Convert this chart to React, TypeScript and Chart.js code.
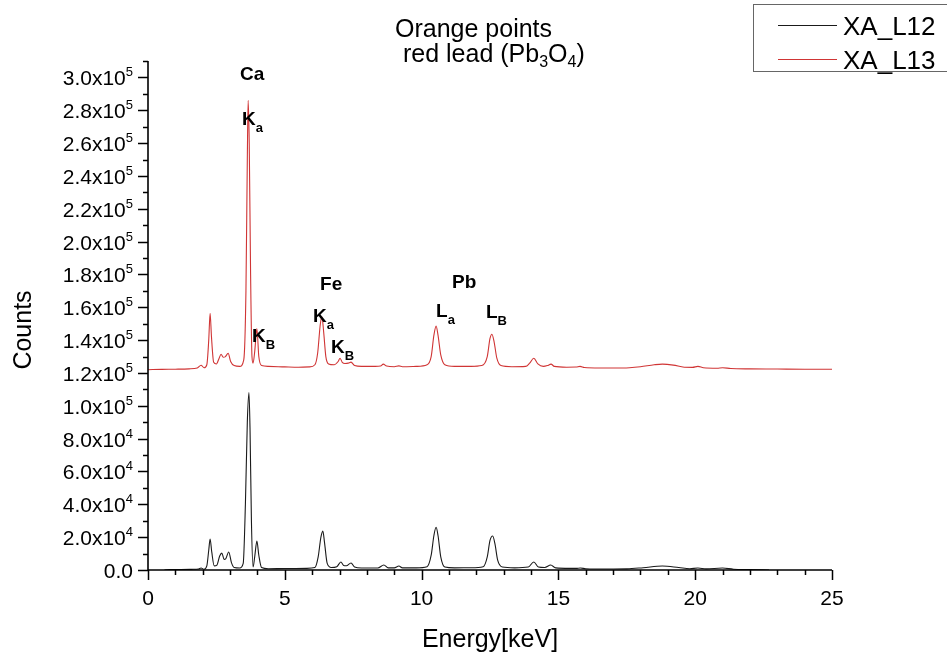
import React, { useEffect, useRef } from 'react';
import { Chart, registerables } from 'chart.js';

Chart.register(...registerables);

// ---- data (keV, counts) ----
const energyL13 = [
  0, 0.5, 1.0, 1.5, 1.8, 1.94, 2.05, 2.15, 2.22, 2.27, 2.32, 2.4, 2.5, 2.6, 2.67, 2.75, 2.82, 2.93, 3.02, 3.15,
  3.35, 3.5, 3.58, 3.63, 3.66, 3.7, 3.75, 3.8, 3.84, 3.9, 3.98, 4.05, 4.15, 4.4, 5.0, 5.5, 5.9, 6.1, 6.2, 6.3,
  6.36, 6.42, 6.5, 6.6, 6.8, 6.95, 7.02, 7.1, 7.2, 7.32, 7.42, 7.55, 7.8, 8.3, 8.5, 8.6, 8.72, 9.0, 9.17, 9.3,
  9.8, 10.2, 10.35, 10.45, 10.53, 10.6, 10.7, 10.85, 11.2, 11.8, 12.2, 12.4, 12.5, 12.57, 12.65, 12.75, 12.9, 13.3, 13.8, 13.95,
  14.1, 14.25, 14.45, 14.6, 14.73, 14.85, 15.3, 15.65, 15.79, 15.95, 16.5, 17.0, 17.6, 18.0, 18.5, 18.8, 19.2, 19.6, 19.9, 20.1,
  20.3, 20.8, 21.0, 21.3, 22.0, 23.0, 24.0, 25.0,
];
const countsL13 = [
  122000, 122200, 122300, 122500, 123000, 124700, 123200, 125000, 140000, 156400, 142000, 126500, 125500, 129000, 131400, 129600, 129800, 132000, 127000, 124500,
  124000, 128000, 170000, 250000, 286000, 260000, 180000, 130000, 126000, 133000, 147000, 130000, 124500, 124000, 123700, 123500, 123700, 125000, 132000, 150000,
  154000, 145000, 130000, 125500, 125000, 127000, 129000, 126500, 125800, 126000, 126600, 124500, 124000, 124000, 124200, 125400, 124200, 123800, 124300, 123800,
  124000, 125000, 130000, 143000, 148500, 143000, 131000, 125000, 124000, 124000, 124500, 130000, 141000, 143600, 139000, 129000, 124500, 123800, 124000, 126000,
  129000, 125500, 124000, 124500, 125400, 124000, 123500, 123600, 124000, 123300, 123000, 123000, 123200, 123800, 125000, 125400, 124800, 123500, 123400, 124000,
  123200, 122900, 123200, 122700, 122500, 122400, 122300, 122300,
];

const energyL12 = [
  0.6, 0.8, 1.2, 1.6, 1.85, 1.94, 2.05, 2.15, 2.22, 2.27, 2.33, 2.42, 2.52, 2.62, 2.7, 2.78, 2.84, 2.95, 3.05, 3.15,
  3.35, 3.48, 3.56, 3.63, 3.69, 3.73, 3.78, 3.84, 3.9, 3.98, 4.05, 4.15, 4.4, 5.0, 5.8, 6.1, 6.22, 6.32, 6.39, 6.45,
  6.55, 6.7, 6.9, 7.05, 7.15, 7.25, 7.42, 7.55, 7.8, 8.4, 8.62, 8.78, 9.0, 9.17, 9.3, 9.8, 10.2, 10.35, 10.45, 10.53,
  10.6, 10.7, 10.85, 11.2, 11.8, 12.25, 12.4, 12.5, 12.6, 12.68, 12.78, 12.95, 13.4, 13.9, 14.1, 14.27, 14.5, 14.72, 14.9, 15.4,
  15.65, 15.8, 16.0, 16.8, 17.5, 18.1, 18.8, 19.4, 19.8, 20.1, 20.4, 21.0, 21.4, 22.0, 22.7,
];
const countsL12 = [
  0, 300, 300, 400, 600, 1200, 500, 2500, 12000, 18900, 11000, 2500, 3000, 8500, 10300, 6500, 6800, 11000, 4500, 1500,
  1200, 4000, 40000, 90000, 108000, 85000, 30000, 1800, 8000, 17600, 9000, 1500, 800, 900, 1000, 1500, 8000, 20000, 23700, 17000,
  4000, 1500, 2000, 4900, 2800, 2600, 4300, 1800, 1200, 1200, 3000, 1300, 1300, 2400, 1300, 1300, 2000, 9000, 21000, 26000,
  21000, 8000, 1800, 1300, 1400, 2000, 8000, 18000, 20700, 16000, 6000, 1800, 1300, 1800, 4900, 1800, 1500, 3000, 1300, 1000,
  1000, 1200, 800, 600, 700, 1400, 2400, 1500, 800, 1200, 700, 1200, 500, 300, 0,
];

const seriesNames = ['XA_L12', 'XA_L13'];

const xTickValues = [0, 5, 10, 15, 20, 25];
const xTickLabels = ['0', '5', '10', '15', '20', '25'];
const yTickValues = [0, 20000, 40000, 60000, 80000, 100000, 120000, 140000, 160000, 180000, 200000, 220000, 240000, 260000, 280000, 300000];
const yTickMantissas = ['0.0', '2.0', '4.0', '6.0', '8.0', '1.0', '1.2', '1.4', '1.6', '1.8', '2.0', '2.2', '2.4', '2.6', '2.8', '3.0'];
const yTickExponents = ['', '4', '4', '4', '4', '5', '5', '5', '5', '5', '5', '5', '5', '5', '5', '5'];

// peak annotations: main text, subscript, position in data units (left edge keV, baseline counts)
const peakMain = ['Ca', 'K', 'K', 'Fe', 'K', 'K', 'Pb', 'L', 'L'];
const peakSub = ['', 'a', 'B', '', 'a', 'B', '', 'a', 'B'];
const peakKeV = [3.36, 3.44, 3.80, 6.29, 6.03, 6.69, 11.11, 10.53, 12.35];
const peakCounts = [298400, 271000, 138900, 170500, 151000, 132200, 171700, 154100, 153500];

const FONT = '"Liberation Sans", Arial, sans-serif';

type Part = { t: string; size: number; bold?: boolean; dy?: number };

function richWidth(ctx: CanvasRenderingContext2D, parts: Part[]) {
  let w = 0;
  for (const p of parts) {
    ctx.font = `${p.bold ? 'bold ' : ''}${p.size}px ${FONT}`;
    w += ctx.measureText(p.t).width;
  }
  return w;
}

function drawRich(ctx: CanvasRenderingContext2D, parts: Part[], x: number, y: number, align: 'left' | 'right' | 'center' = 'left') {
  const w = richWidth(ctx, parts);
  let cx = align === 'left' ? x : align === 'right' ? x - w : x - w / 2;
  ctx.textAlign = 'left';
  ctx.textBaseline = 'alphabetic';
  for (const p of parts) {
    ctx.font = `${p.bold ? 'bold ' : ''}${p.size}px ${FONT}`;
    ctx.fillText(p.t, cx, y + (p.dy || 0));
    cx += ctx.measureText(p.t).width;
  }
}

const decorPlugin = {
  id: 'decor',
  afterDraw(chart: any) {
    const ctx: CanvasRenderingContext2D = chart.ctx;
    const xs = chart.scales.x;
    const ys = chart.scales.y;
    const { left, right, top, bottom } = chart.chartArea;
    ctx.save();
    ctx.fillStyle = '#000';
    ctx.strokeStyle = '#000';

    // axes
    ctx.lineWidth = 1.6;
    ctx.beginPath();
    ctx.moveTo(left, top);
    ctx.lineTo(left, bottom);
    ctx.lineTo(right, bottom);
    ctx.stroke();

    // ticks
    ctx.lineWidth = 1.5;
    ctx.beginPath();
    for (let v = 0; v <= ys.max + 1; v += 10000) {
      const py = Math.round(ys.getPixelForValue(v)) + 0.5;
      const major = v % 20000 === 0;
      ctx.moveTo(left - (major ? 10 : 5), py);
      ctx.lineTo(left, py);
    }
    for (let v = 0; v <= 25; v += 1) {
      const px = Math.round(xs.getPixelForValue(v)) + 0.5;
      const major = v % 5 === 0;
      ctx.moveTo(px, bottom);
      ctx.lineTo(px, bottom + (major ? 10 : 5));
    }
    ctx.stroke();

    // y tick labels
    yTickValues.forEach((v, i) => {
      const py = ys.getPixelForValue(v);
      const parts: Part[] = [{ t: yTickMantissas[i] + (yTickExponents[i] ? 'x10' : ''), size: 21 }];
      if (yTickExponents[i]) parts.push({ t: yTickExponents[i], size: 13, dy: -9 });
      drawRich(ctx, parts, left - 15, py + 8, 'right');
    });

    // x tick labels
    ctx.font = `21px ${FONT}`;
    ctx.textAlign = 'center';
    ctx.textBaseline = 'alphabetic';
    xTickValues.forEach((v, i) => {
      ctx.fillText(xTickLabels[i], xs.getPixelForValue(v), 605);
    });

    // axis titles
    ctx.font = `25px ${FONT}`;
    ctx.textAlign = 'center';
    ctx.fillText('Energy[keV]', (left + right) / 2, 647);
    ctx.save();
    ctx.translate(31, 330);
    ctx.rotate(-Math.PI / 2);
    ctx.fillText('Counts', 0, 0);
    ctx.restore();

    // title
    drawRich(ctx, [{ t: 'Orange points', size: 25 }], 395, 37);
    drawRich(ctx, [
      { t: ' red lead (Pb', size: 25 },
      { t: '3', size: 16, dy: 5 },
      { t: 'O', size: 25 },
      { t: '4', size: 16, dy: 5 },
      { t: ')', size: 25 },
    ], 396, 62);

    // peak labels
    peakMain.forEach((m, i) => {
      const px = xs.getPixelForValue(peakKeV[i]);
      const py = ys.getPixelForValue(peakCounts[i]);
      const parts: Part[] = [{ t: m, size: 19, bold: true }];
      if (peakSub[i]) parts.push({ t: peakSub[i], size: 13, bold: true, dy: 7 });
      drawRich(ctx, parts, px, py, 'left');
    });

    // legend
    ctx.lineWidth = 1;
    ctx.strokeStyle = '#666';
    ctx.strokeRect(753.5, 4.5, 220, 67);
    const colors = chart.data.datasets.map((d: any) => d.borderColor);
    [25, 59].forEach((ly, i) => {
      ctx.strokeStyle = colors[i];
      ctx.lineWidth = 1.2;
      ctx.beginPath();
      ctx.moveTo(778, ly + 0.5);
      ctx.lineTo(837, ly + 0.5);
      ctx.stroke();
      ctx.fillStyle = '#000';
      drawRich(ctx, [{ t: seriesNames[i], size: 26 }], 843, ly + 10);
    });

    ctx.restore();
  },
};

export default function App() {
  const ref = useRef<HTMLCanvasElement | null>(null);

  useEffect(() => {
    document.body.style.margin = '0';
    document.body.style.overflow = 'hidden';
    const canvas = ref.current;
    if (!canvas) return;
    const chart = new Chart(canvas, {
      type: 'line',
      data: {
        datasets: [
          {
            label: seriesNames[0],
            data: energyL12.map((x, i) => ({ x, y: countsL12[i] })),
            borderColor: '#1a1a1a',
            borderWidth: 1.1,
            pointRadius: 0,
            cubicInterpolationMode: 'monotone',
            fill: false,
          },
          {
            label: seriesNames[1],
            data: energyL13.map((x, i) => ({ x, y: countsL13[i] })),
            borderColor: '#d03535',
            borderWidth: 1.1,
            pointRadius: 0,
            cubicInterpolationMode: 'monotone',
            fill: false,
          },
        ],
      },
      options: {
        responsive: false,
        animation: false,
        devicePixelRatio: 1,
        layout: { padding: { left: 148, top: 61, right: 947 - 832, bottom: 656 - 570 } },
        scales: {
          x: {
            type: 'linear',
            min: 0,
            max: 25,
            grid: { display: false, drawTicks: false },
            border: { display: false },
            ticks: { display: false },
          },
          y: {
            type: 'linear',
            min: 0,
            max: 310000,
            grid: { display: false, drawTicks: false },
            border: { display: false },
            ticks: { display: false },
          },
        },
        plugins: {
          legend: { display: false },
          title: { display: false },
          tooltip: { enabled: false },
        },
      },
      plugins: [decorPlugin],
    } as any);
    return () => chart.destroy();
  }, []);

  return (
    <div style={{ width: 947, height: 656, background: '#fff' }}>
      <canvas ref={ref} width={947} height={656} style={{ display: 'block' }} />
    </div>
  );
}
